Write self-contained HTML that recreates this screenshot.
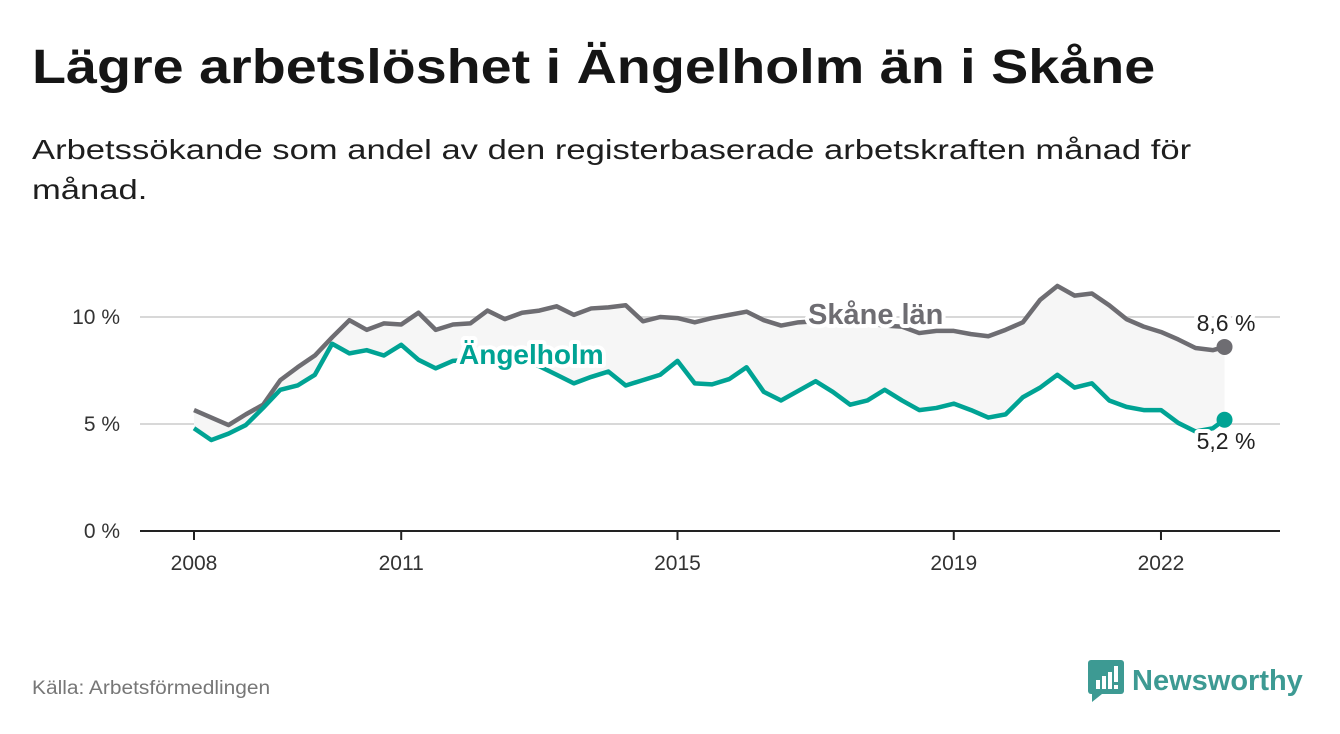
<!DOCTYPE html>
<html><head><meta charset="utf-8"><style>
body{margin:0;background:#fff;width:1340px;height:734px;overflow:hidden;font-family:"Liberation Sans",sans-serif;position:relative}
.t{position:absolute;left:32px;top:40px;font-size:48px;font-weight:bold;color:#151515;margin:0;white-space:nowrap;transform:scaleX(1.16);transform-origin:0 0}
.s{position:absolute;left:32px;top:130px;font-size:28px;line-height:40px;color:#1e1e1e;width:960px;transform:scaleX(1.235);transform-origin:0 0}
.src{position:absolute;left:32px;top:678px;font-size:19px;color:#777;transform:scaleX(1.1);transform-origin:0 0}
.logo{position:absolute;left:1088px;top:660px;display:flex;align-items:center;font-size:29px;color:#3d9a93;font-weight:bold}
</style></head><body>
<h1 class="t">Lägre arbetslöshet i Ängelholm än i Skåne</h1>
<div class="s">Arbetssökande som andel av den registerbaserade arbetskraften månad för månad.</div>
<svg id="c" width="1340" height="734" style="position:absolute;left:0;top:0"></svg>
<div class="src">Källa: Arbetsförmedlingen</div>
<div class="logo"><svg width="36" height="42" viewBox="0 0 36 42"><rect x="0" y="0" width="36" height="34" rx="3" fill="#3d9a93"/><polygon points="4,34 14,34 4,42" fill="#3d9a93"/><rect x="8" y="20" width="4" height="9" fill="#fff"/><rect x="14" y="16" width="4" height="13" fill="#fff"/><rect x="20" y="12" width="4" height="17" fill="#fff"/><rect x="26" y="6" width="4" height="16" fill="#fff"/><rect x="26" y="25" width="4" height="4" fill="#fff"/></svg><span style="margin-left:8px">Newsworthy</span></div>
<script>
const dates=[2008,2008.25,2008.5,2008.75,2009,2009.25,2009.5,2009.75,2010,2010.25,2010.5,2010.75,2011,2011.25,2011.5,2011.75,2012,2012.25,2012.5,2012.75,2013,2013.25,2013.5,2013.75,2014,2014.25,2014.5,2014.75,2015,2015.25,2015.5,2015.75,2016,2016.25,2016.5,2016.75,2017,2017.25,2017.5,2017.75,2018,2018.25,2018.5,2018.75,2019,2019.25,2019.5,2019.75,2020,2020.25,2020.5,2020.75,2021,2021.25,2021.5,2021.75,2022,2022.25,2022.5,2022.75,2022.92];
const skane=[5.65,5.3,4.95,5.45,5.9,7.05,7.65,8.2,9.05,9.85,9.4,9.7,9.65,10.2,9.4,9.65,9.7,10.3,9.9,10.2,10.3,10.5,10.1,10.4,10.45,10.55,9.8,10.0,9.95,9.75,9.95,10.1,10.25,9.85,9.6,9.75,9.8,9.8,9.75,9.7,9.6,9.55,9.25,9.35,9.35,9.2,9.1,9.4,9.75,10.8,11.45,11.0,11.1,10.55,9.9,9.55,9.3,8.95,8.55,8.45,8.6];
const angelholm=[4.8,4.25,4.55,4.95,5.75,6.6,6.8,7.3,8.75,8.3,8.45,8.2,8.7,8.0,7.6,7.95,8.0,8.1,8.0,7.9,7.7,7.3,6.9,7.2,7.45,6.8,7.05,7.3,7.95,6.9,6.85,7.1,7.65,6.5,6.1,6.55,7.0,6.5,5.9,6.1,6.6,6.1,5.65,5.75,5.95,5.65,5.3,5.45,6.25,6.7,7.3,6.7,6.9,6.1,5.8,5.65,5.65,5.05,4.65,4.8,5.2];
const yTicks=[0,5,10];
const yTickLabels=["0 %","5 %","10 %"];
const xTicks=[2008,2011,2015,2019,2022];
const NS="http://www.w3.org/2000/svg",svg=document.getElementById('c');
const X=t=>194+(t-2008)*69.07, Y=v=>531-v*21.4;
function el(tag,a,p){const e=document.createElementNS(NS,tag);for(const k in a)e.setAttribute(k,a[k]);(p||svg).appendChild(e);return e;}
yTicks.forEach((v,i)=>{
  if(v>0){const g=el('line',{x1:140,x2:1280,y1:Y(v),y2:Y(v),stroke:'#d8d8d8','stroke-width':2});
  
  }
  const t=el('text',{x:120,y:Y(v)+7,'text-anchor':'end','font-size':21,fill:'#333'});t.textContent=yTickLabels[i];
  
  
});
const ax=el('line',{x1:140,x2:1280,y1:531,y2:531,stroke:'#222','stroke-width':2});


xTicks.forEach(yr=>{
  el('line',{x1:X(yr),x2:X(yr),y1:531,y2:540,stroke:'#222','stroke-width':2});
  const t=el('text',{x:X(yr),y:570,'text-anchor':'middle','font-size':21,fill:'#333'});t.textContent=yr;
  
  
});
let area=dates.map((d,i)=>X(d)+','+Y(skane[i])).join(' ')+' '+dates.map((d,i)=>X(d)+','+Y(angelholm[i])).reverse().join(' ');
const ar=el('polygon',{points:area,fill:'#f6f6f6'});


function line(vals,col,name){
  const p=el('polyline',{points:dates.map((d,i)=>X(d)+','+Y(vals[i])).join(' '),fill:'none',stroke:col,'stroke-width':4.5,'stroke-linejoin':'round'});
  
  
  const c=el('circle',{cx:X(dates[dates.length-1]),cy:Y(vals[vals.length-1]),r:8,fill:col});
  
  
}
line(skane,'#6e6d72','skane-line');
line(angelholm,'#00a394','angelholm-line');
function lab(x,y,txt,col,name,w,anchor,size){
  const t=el('text',{x:x,y:y,'font-size':size,'font-weight':w,fill:col,stroke:'#fff','stroke-width':8,'paint-order':'stroke','stroke-linejoin':'round','text-anchor':anchor||'start'});
  t.textContent=txt;
  
  
}
lab(808,324,'Skåne län','#6e6d72','skane-label','bold','start',29);
lab(459,364,'Ängelholm','#00a394','angelholm-label','bold','start',28);
lab(1226,331,'8,6 %','#222','skane-end-value','normal','middle',23);
lab(1226,449,'5,2 %','#222','angelholm-end-value','normal','middle',23);
</script>
</body></html>
